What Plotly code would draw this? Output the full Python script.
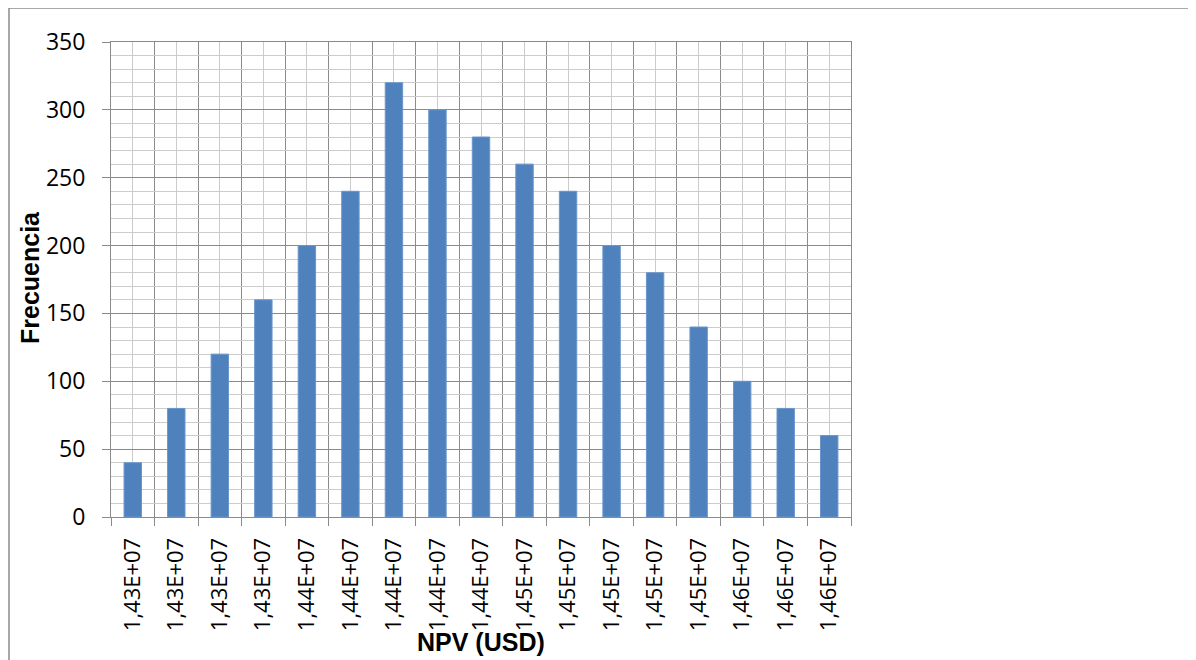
import plotly.graph_objects as go

categories = ["1,43E+07", "1,43E+07", "1,43E+07", "1,43E+07",
              "1,44E+07", "1,44E+07", "1,44E+07", "1,44E+07", "1,44E+07",
              "1,45E+07", "1,45E+07", "1,45E+07", "1,45E+07", "1,45E+07",
              "1,46E+07", "1,46E+07", "1,46E+07"]
frequencies = [40, 80, 120, 160, 200, 240, 320, 300, 280, 260, 240, 200, 180, 140, 100, 80, 60]
x_title = "NPV (USD)"
y_title = "Frecuencia"

n = len(categories)
xs = list(range(n))
boundaries = [i - 0.5 for i in range(n + 1)]

W, H = 1196, 660
OFF = 8  # page body margin
PL, PR, PT, PB = 111, 851, 42, 517  # plot area in page pixels
L, R, T, B = PL - OFF, PR - OFF, PT - OFF, PB - OFF
pw, ph = PR - PL, PB - PT

fig = go.Figure()
fig.add_trace(go.Bar(x=xs, y=frequencies, width=0.4,
                     marker=dict(color="#4f81bd", line=dict(color="#6a96cc", width=1))))

tickfont = dict(family="Open Sans", size=22, color="#000000")
titlefont = dict(family="Liberation Sans", size=25, color="#000000")
fig.update_layout(
    width=W, height=H,
    margin=dict(l=L, r=W - R, t=T, b=H - B),
    paper_bgcolor="white", plot_bgcolor="white",
    showlegend=False,
    bargap=0.6,
    xaxis=dict(
        range=[-0.5, n - 0.5], automargin=False,
        tickmode="array", tickvals=xs, ticktext=categories,
        tickangle=-90, tickfont=tickfont, ticks="",
        ticklabelstandoff=11,
        showgrid=True, gridcolor="#cccccc", gridwidth=1,
        minor=dict(tickvals=boundaries, ticks="outside", ticklen=8, tickcolor="#8a8a8a",
                   showgrid=True, gridcolor="#8a8a8a", gridwidth=1),
        showline=True, linecolor="#8a8a8a", linewidth=1, mirror=True,
        zeroline=False,
    ),
    yaxis=dict(
        range=[0, 350], automargin=False, tickmode="linear", tick0=0, dtick=50,
        tickfont=dict(family="Open Sans", size=23, color="#000000"),
        ticks="outside", ticklen=8, tickcolor="#8a8a8a",
        ticklabelstandoff=12,
        showgrid=True, gridcolor="#8a8a8a", gridwidth=1,
        minor=dict(dtick=10, showgrid=True, gridcolor="#cccccc", gridwidth=1, ticks=""),
        showline=True, linecolor="#8a8a8a", linewidth=1, mirror=True,
        zeroline=False,
    ),
)

fig.add_annotation(text="<b>" + x_title + "</b>", xref="paper", yref="paper",
                   x=0.5, y=(PB - 642) / ph, xanchor="center", yanchor="middle",
                   showarrow=False, font=titlefont)
fig.add_annotation(text="<b>" + y_title + "</b>", xref="paper", yref="paper",
                   x=(30 - PL) / pw, y=(PB - 278) / ph, xanchor="center", yanchor="middle",
                   textangle=-90, showarrow=False, font=titlefont)

fig.add_shape(type="rect", xref="paper", yref="paper",
              x0=(9 - PL) / pw, x1=(1194 - PL) / pw,
              y0=(PB - 700) / ph, y1=(PB - 8) / ph,
              line=dict(color="#8c8c8c", width=1.5), fillcolor="rgba(0,0,0,0)", layer="below")

fig.write_html("out.html")
